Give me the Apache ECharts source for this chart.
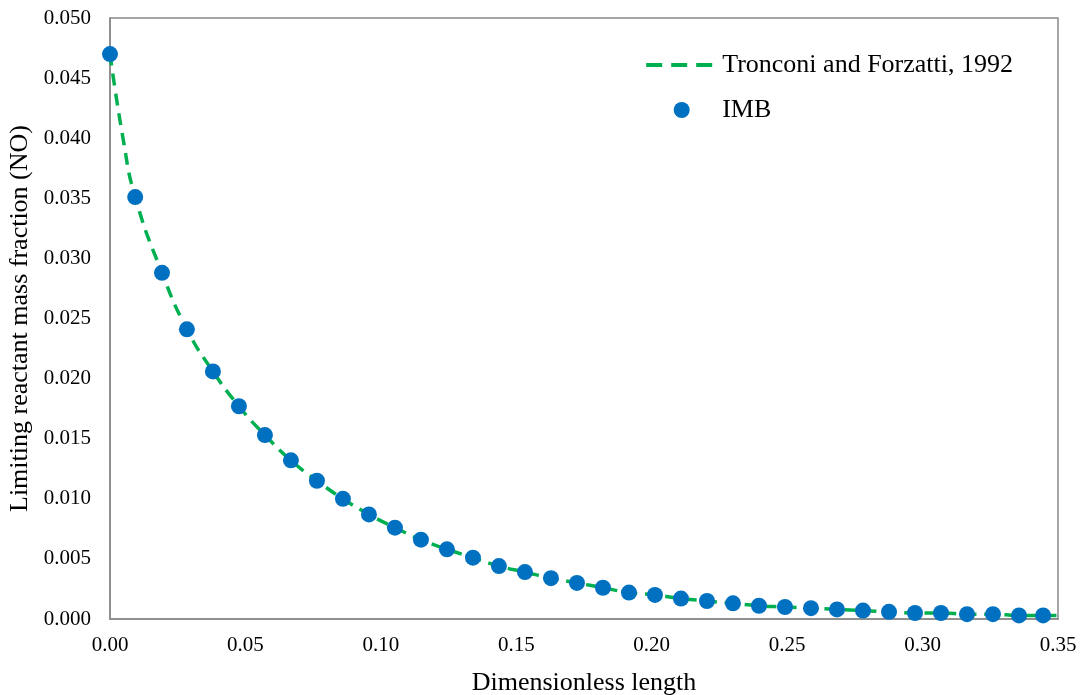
<!DOCTYPE html>
<html>
<head>
<meta charset="utf-8">
<script src="https://cdn.jsdelivr.net/npm/echarts@6/dist/echarts.min.js"></script>
<style>html,body{margin:0;padding:0;background:#fff}#c{width:1082px;height:695px}</style>
</head>
<body>
<div id="c"></div>
<script>
// Dimensionless length (x) and NO mass fraction (y)
const xIMB = [0.0000,0.0093,0.0192,0.0284,0.0380,0.0476,0.0572,0.0668,0.0764,0.0860,0.0956,0.1052,0.1148,0.1244,0.1340,0.1436,0.1532,0.1628,0.1724,0.1820,0.1916,0.2012,0.2108,0.2204,0.2300,0.2396,0.2492,0.2588,0.2684,0.2780,0.2876,0.2972,0.3068,0.3164,0.3260,0.3356,0.3445];
const yIMB = [0.0470,0.0351,0.0288,0.0241,0.0206,0.0177,0.0153,0.0132,0.0115,0.0100,0.0087,0.0076,0.0066,0.0058,0.0051,0.0044,0.0039,0.0034,0.0030,0.0026,0.0022,0.0020,0.0017,0.0015,0.0013,0.0011,0.0010,0.0009,0.0008,0.0007,0.0006,0.0005,0.0005,0.0004,0.0004,0.0003,0.0003];
const xRef = [0.0000,0.0048,0.0093,0.0192,0.0284,0.0380,0.0476,0.0572,0.0668,0.0764,0.0860,0.0956,0.1052,0.1148,0.1244,0.1340,0.1436,0.1532,0.1628,0.1724,0.1820,0.1916,0.2012,0.2108,0.2204,0.2300,0.2396,0.2492,0.2588,0.2684,0.2780,0.2876,0.2972,0.3068,0.3164,0.3260,0.3356,0.3500];
const yRef = [0.0470,0.0400,0.0351,0.0288,0.0241,0.0206,0.0177,0.0153,0.0132,0.0115,0.0100,0.0087,0.0076,0.0066,0.0058,0.0051,0.0044,0.0039,0.0034,0.0030,0.0026,0.0022,0.0020,0.0017,0.0015,0.0013,0.0011,0.0010,0.0009,0.0008,0.0007,0.0006,0.0005,0.0005,0.0004,0.0004,0.0003,0.0003];
const seriesNames = ['Tronconi and Forzatti, 1992','IMB'];
const xTitle = 'Dimensionless length';
const yTitle = 'Limiting reactant mass fraction (NO)';

const font = 'Liberation Serif, Times New Roman, serif';
const chart = echarts.init(document.getElementById('c'), null, {renderer:'canvas'});
chart.setOption({
  animation:false,
  backgroundColor:'#fff',
  textStyle:{fontFamily:font, color:'#000'},
  grid:{left:110,right:24,top:18,bottom:76,show:true,borderColor:'#898989',borderWidth:1.5,containLabel:false,outerBoundsMode:'none'},
  legend:{
    orient:'vertical', right:64, top:47,
    itemWidth:71, itemHeight:16, itemGap:19,
    textStyle:{fontFamily:font,fontSize:26,color:'#000'},
    data:[
      {name:seriesNames[0], itemStyle:{opacity:0}, lineStyle:{width:4,type:[16,9]}},
      {name:seriesNames[1]}
    ]
  },
  xAxis:{
    type:'value', min:0, max:0.35, interval:0.05,
    name:xTitle, nameLocation:'middle', nameGap:51,
    nameTextStyle:{fontFamily:font,fontSize:26,color:'#000'},
    axisLine:{lineStyle:{color:'#898989',width:1.5}},
    axisTick:{show:false}, splitLine:{show:false},
    axisLabel:{fontFamily:font,fontSize:21,color:'#000',margin:16,formatter:v=>v.toFixed(2)}
  },
  yAxis:{
    type:'value', min:0, max:0.05, interval:0.005,
    name:yTitle, nameLocation:'middle', nameGap:71, nameRotate:90,
    nameTextStyle:{fontFamily:font,fontSize:26,color:'#000'},
    axisLine:{lineStyle:{color:'#898989',width:1.5}},
    axisTick:{show:false}, splitLine:{show:false},
    axisLabel:{fontFamily:font,fontSize:21,color:'#000',margin:19,formatter:v=>v.toFixed(3)}
  },
  series:[
    {name:seriesNames[0], type:'line', smooth:true, showSymbol:false, symbol:'none',
     data:xRef.map((x,i)=>[x,yRef[i]]),
     lineStyle:{color:'#00B050',width:3.5,type:[12,8]}, itemStyle:{color:'#00B050'}, z:2},
    {name:seriesNames[1], type:'scatter', symbol:'circle', symbolSize:16,
     data:xIMB.map((x,i)=>[x,yIMB[i]]),
     itemStyle:{color:'#0070C0',opacity:1}, z:3}
  ]
});
</script>
</body>
</html>
